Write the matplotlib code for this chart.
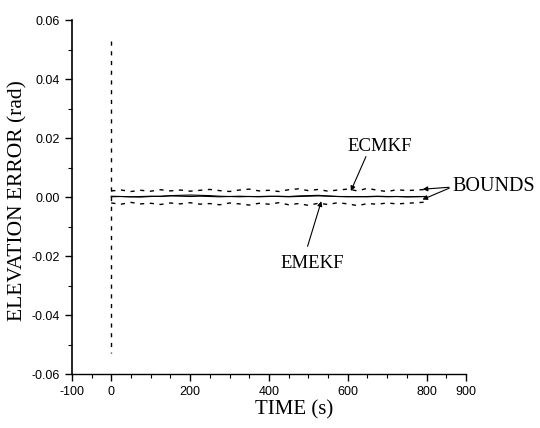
import matplotlib
matplotlib.use("Agg")
import matplotlib.pyplot as plt
from matplotlib.ticker import MultipleLocator, FormatStrFormatter

plt.rcParams['axes.unicode_minus'] = False

# time grid (s) for the filtered runs
t = [0, 25, 50, 75, 100, 125, 150, 175, 200, 225, 250, 275, 300, 325, 350,
     375, 400, 425, 450, 475, 500, 525, 550, 575, 600, 625, 650, 675, 700,
     725, 750, 775, 800]

# 3-sigma bounds (rad)
upper = [0.0021, 0.0024, 0.0019, 0.0023, 0.0020, 0.0025, 0.0021, 0.0024,
         0.0020, 0.0023, 0.0026, 0.0022, 0.0019, 0.0024, 0.0027, 0.0021,
         0.0023, 0.0019, 0.0025, 0.0028, 0.0022, 0.0026, 0.0020, 0.0024,
         0.0027, 0.0021, 0.0030, 0.0023, 0.0019, 0.0025, 0.0022, 0.0024,
         0.0026]
lower = [-0.0020, -0.0024, -0.0018, -0.0023, -0.0021, -0.0025, -0.0020,
         -0.0023, -0.0019, -0.0024, -0.0022, -0.0026, -0.0020, -0.0023,
         -0.0027, -0.0021, -0.0024, -0.0019, -0.0026, -0.0022, -0.0028,
         -0.0021, -0.0025, -0.0019, -0.0023, -0.0029, -0.0022, -0.0024,
         -0.0020, -0.0023, -0.0021, -0.0019, -0.0017]

# initial bound spike at t = 0
spike_t = [0, 0]
spike_y = [0.053, -0.053]

# elevation error of the two filters (rad)
ecmkf = [0.0003, 0.0002, 0.0001, 0.0002, 0.0003, 0.0002, 0.0004, 0.0003,
         0.0002, 0.0003, 0.0002, 0.0001, 0.0002, 0.0003, 0.0002, 0.0002,
         0.0003, 0.0002, 0.0001, 0.0002, 0.0003, 0.0004, 0.0003, 0.0002,
         0.0002, 0.0001, 0.0002, 0.0003, 0.0002, 0.0002, 0.0001, 0.0002,
         0.0002]
emekf = [0.0001, 0.0002, 0.0001, 0.0000, 0.0002, 0.0003, 0.0005, 0.0006,
         0.0007, 0.0006, 0.0005, 0.0003, 0.0002, 0.0001, 0.0002, 0.0001,
         0.0002, 0.0003, 0.0002, 0.0004, 0.0005, 0.0006, 0.0004, 0.0002,
         0.0001, 0.0002, 0.0001, 0.0002, 0.0001, 0.0002, 0.0001, 0.0001,
         0.0002]

serif = ['Liberation Serif', 'DejaVu Serif']
narrow = ['Liberation Sans Narrow', 'Liberation Sans', 'DejaVu Sans']

fig = plt.figure(figsize=(5.4, 4.28), dpi=100)
ax = fig.add_axes([0.133, 0.126, 0.73, 0.827])

ax.plot(spike_t, spike_y, color='black', lw=1.0, ls=(0, (3, 4)))
ax.plot(t, upper, color='black', lw=1.0, ls=(0, (3, 4)))
ax.plot(t, lower, color='black', lw=1.0, ls=(0, (3, 4)))
ax.plot(t, ecmkf, color='black', lw=0.8)
ax.plot(t, emekf, color='black', lw=0.8)

ax.set_xlim(-100, 900)
ax.set_ylim(-0.06, 0.06)
ax.set_xticks([-100, 0, 200, 400, 600, 800, 900])
ax.xaxis.set_minor_locator(MultipleLocator(50))
ax.yaxis.set_major_locator(MultipleLocator(0.02))
ax.yaxis.set_minor_locator(MultipleLocator(0.01))
ax.yaxis.set_major_formatter(FormatStrFormatter('%.2f'))
ax.tick_params(which='major', direction='out', length=5, width=1.0,
               labelsize=9)
ax.tick_params(which='minor', direction='out', length=3, width=0.8)
for lab in ax.get_xticklabels() + ax.get_yticklabels():
    lab.set_family(narrow)

ax.spines['top'].set_visible(False)
ax.spines['right'].set_visible(False)
ax.spines['left'].set_linewidth(1.2)
ax.spines['bottom'].set_linewidth(1.0)

ax.set_xlabel('TIME (s)', family=serif, fontsize=15)
ax.xaxis.set_label_coords(0.563, -0.075)
ax.set_ylabel('ELEVATION ERROR (rad)', family=serif, fontsize=15.5)
ax.yaxis.set_label_coords(-0.112, 0.49)

arrow = dict(arrowstyle='-|>', color='black', lw=0.8, mutation_scale=7)
ax.annotate('', xy=(605, 0.0012), xytext=(649, 0.0146), arrowprops=arrow)
ax.text(682, 0.0173, 'ECMKF', family=serif, fontsize=13.5,
        ha='center', va='center')

ax.annotate('', xy=(535, -0.0005), xytext=(496, -0.0176), arrowprops=arrow)
ax.text(509, -0.0224, 'EMEKF', family=serif, fontsize=13.5,
        ha='center', va='center')

ax.annotate('', xy=(783, 0.0026), xytext=(864, 0.0034), arrowprops=arrow)
ax.annotate('', xy=(783, -0.0012), xytext=(864, 0.0034), arrowprops=arrow)
ax.text(866, 0.0036, 'BOUNDS', family=serif, fontsize=14.5,
        ha='left', va='center', clip_on=False)

fig.savefig('out.png', dpi=100)
